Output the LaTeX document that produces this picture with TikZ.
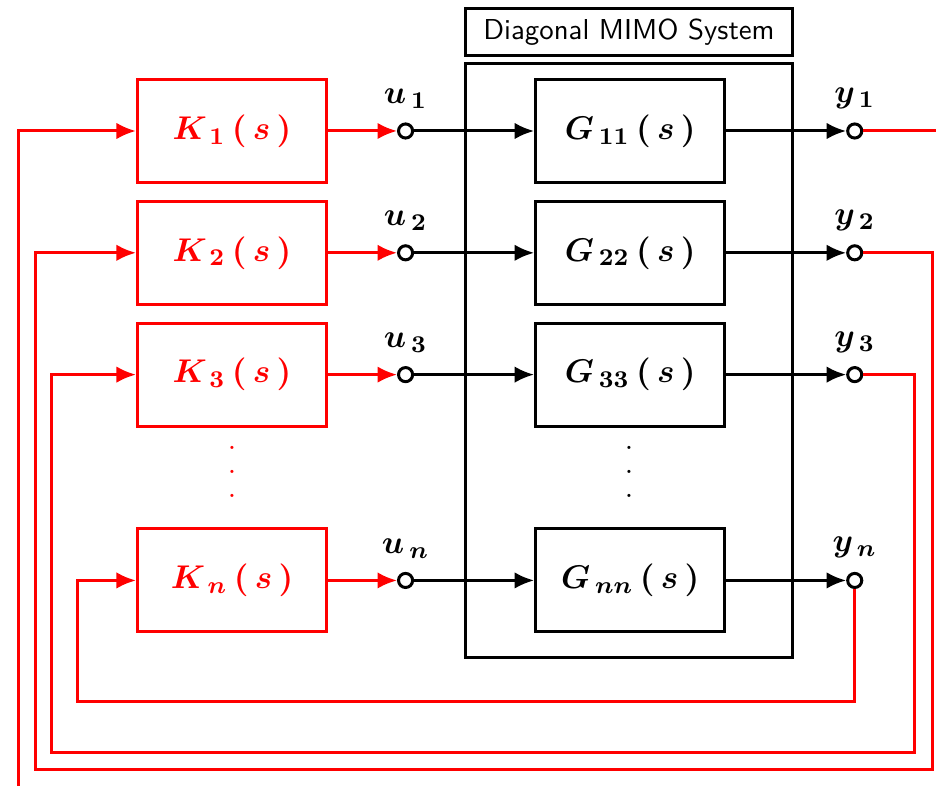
\documentclass[tikz,border=0pt]{standalone}
\usepackage{tikz}
\usetikzlibrary{arrows.meta,positioning}
\newcommand{\tallvdots}{\vbox{\baselineskip=8pt\lineskiplimit=0pt\hbox{.}\hbox{.}\hbox{.}}}

\begin{document}
\begin{tikzpicture}[x=0.3333pt,y=-0.3333pt,
  every label/.style={font=\fontsize{11}{13}\selectfont\boldmath},
  block/.style={draw=#1,line width=1pt,text=#1,minimum width=63pt,minimum height=34.3pt,
                inner sep=0pt,font=\fontsize{11}{13}\selectfont\boldmath},
  block/.default=black,
  port/.style={circle,draw,line width=1pt,fill=white,minimum size=4.7pt,inner sep=0pt},
  sig/.style={-{Latex[length=6.5pt,width=5.5pt]},line width=1pt},
  fb/.style={sig,red}]
\useasboundingbox (0,0) rectangle (936,786);
\clip (0,0) rectangle (936,786);

% controllers
\node[block=red] (K1) at (232,131) {$K_{\,1}\,(\,s\,)$};
\node[block=red,below=5.3pt of K1] (K2) {$K_{\,2}\,(\,s\,)$};
\node[block=red,below=5.3pt of K2] (K3) {$K_{\,3}\,(\,s\,)$};
\node[block=red,below=33.3pt of K3] (Kn) {$K_{\,n}\,(\,s\,)$};
\node[text=red] (kdots) at (232,472) {\tallvdots};

% plant channels
\node[port,right=23pt of K1,label={[label distance=1pt]above:$u_{\,1}$}] (u1) {};
\node[port,right=23pt of K2,label={[label distance=1pt]above:$u_{\,2}$}] (u2) {};
\node[port,right=23pt of K3,label={[label distance=1pt]above:$u_{\,3}$}] (u3) {};
\node[port,right=23pt of Kn,label={[label distance=1pt]above:$u_{\,n}$}] (un) {};
\node[block,right=40pt of u1] (G1) {$G_{\,11}\,(\,s\,)$};
\node[block,right=40pt of u2] (G2) {$G_{\,22}\,(\,s\,)$};
\node[block,right=40pt of u3] (G3) {$G_{\,33}\,(\,s\,)$};
\node[block,right=40pt of un] (Gn) {$G_{\,nn}\,(\,s\,)$};
\node (gdots) at (629,472) {\tallvdots};
\node[port,right=40pt of G1,label={[label distance=1pt]above:$y_{\,1}$}] (y1) {};
\node[port,right=40pt of G2,label={[label distance=1pt]above:$y_{\,2}$}] (y2) {};
\node[port,right=40pt of G3,label={[label distance=1pt]above:$y_{\,3}$}] (y3) {};
\node[port,right=40pt of Gn,label={[label distance=1pt]above:$y_{\,n}$}] (yn) {};

% system frame
\node[draw,line width=1pt,minimum width=109pt,minimum height=198pt] (sys) at (629,360.5) {};
\node[draw,line width=1pt,minimum width=109pt,minimum height=14pt,above=1.8pt of sys,
  font=\sffamily\fontsize{9.6}{11}\selectfont] (title) {Diagonal MIMO System};

% forward paths
\draw[fb] (K1) -- (u1);
\draw[fb] (K2) -- (u2);
\draw[fb] (K3) -- (u3);
\draw[fb] (Kn) -- (un);
\draw[sig] (u1) -- (G1);
\draw[sig] (u2) -- (G2);
\draw[sig] (u3) -- (G3);
\draw[sig] (un) -- (Gn);
\draw[sig] (G1) -- (y1);
\draw[sig] (G2) -- (y2);
\draw[sig] (G3) -- (y3);
\draw[sig] (Gn) -- (yn);

% feedback loops
\draw[fb] (y1) -- (960,131) |- (18,800) |- (K1);
\draw[fb] (y2) -| (932,769) -- (35,769) |- (K2);
\draw[fb] (y3) -| (914,752) -- (51,752) |- (K3);
\draw[fb] (yn) |- (77,701) |- (Kn);
\end{tikzpicture}
\end{document}
